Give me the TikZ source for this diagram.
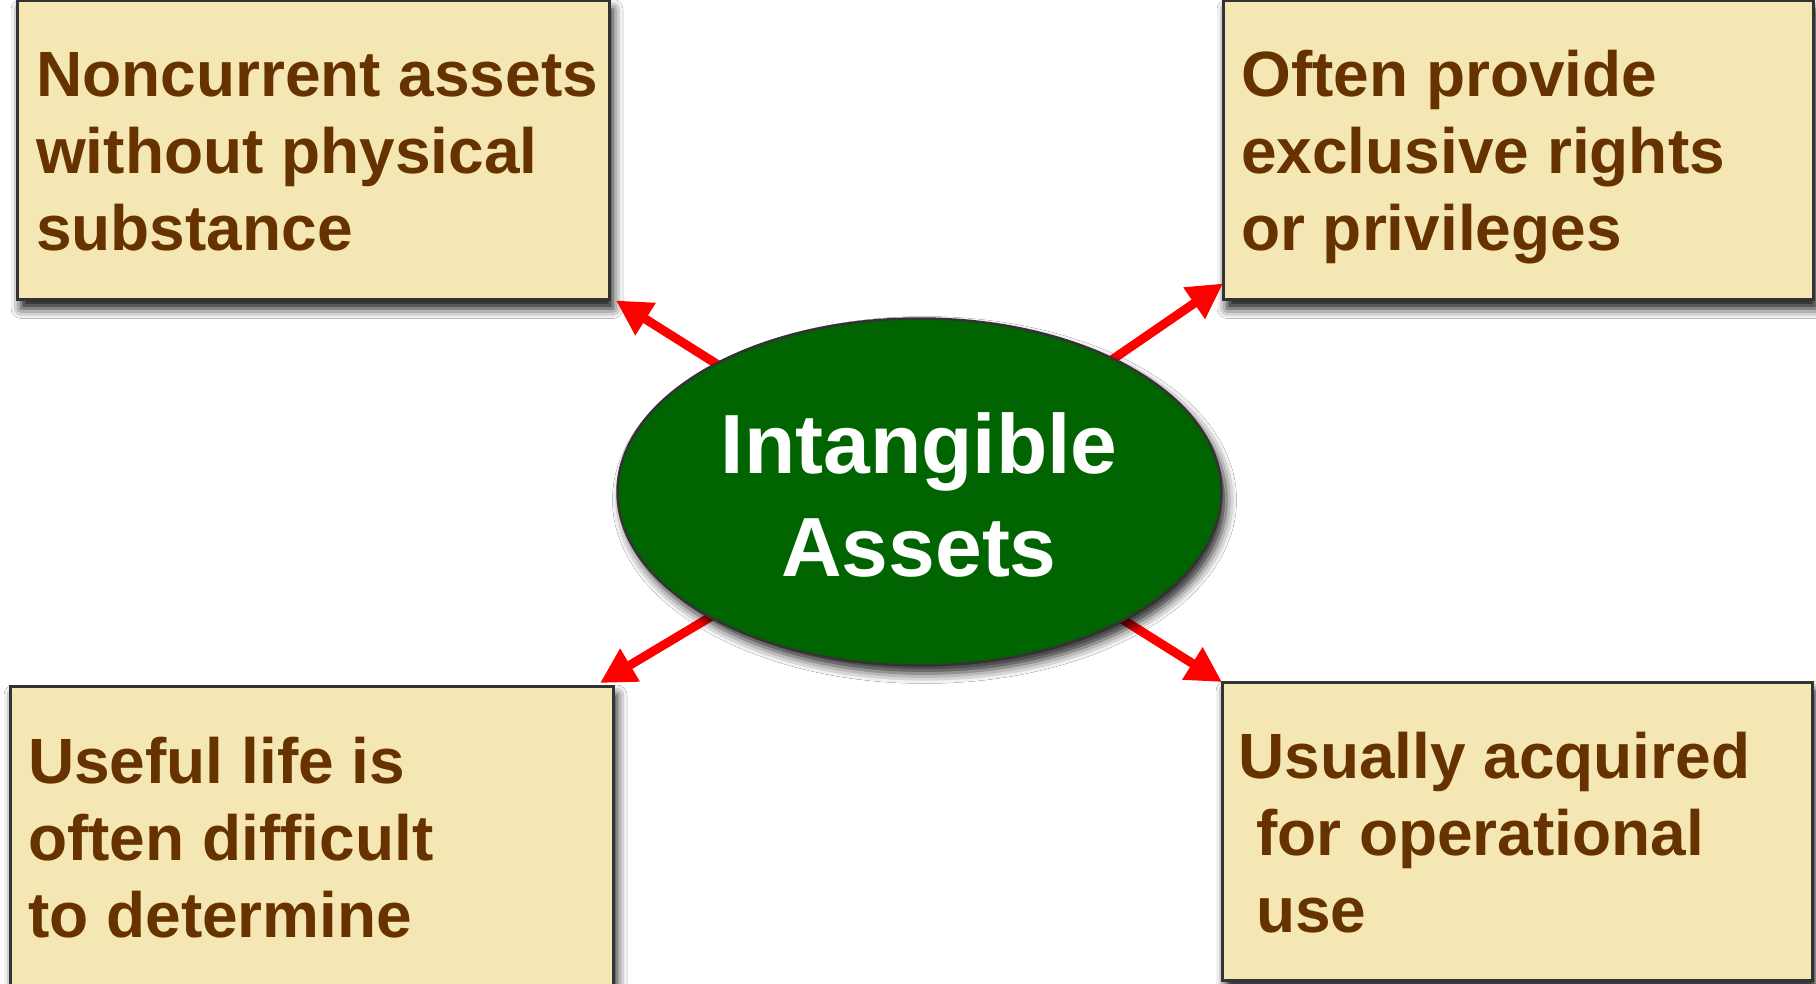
\documentclass[tikz,border=0pt]{standalone}
\usepackage{fontspec}
\setmainfont{Liberation Sans}
\usetikzlibrary{arrows.meta,shapes.geometric,shadows.blur,calc}
\definecolor{boxfill}{RGB}{245,231,179}
\definecolor{boxline}{RGB}{51,51,51}
\definecolor{textbrown}{RGB}{102,51,0}
\definecolor{ovalgreen}{RGB}{0,100,0}
\definecolor{arrowred}{RGB}{255,0,0}
\pgfdeclarelayer{front}
\pgfsetlayers{main,front}
\tikzset{
  infobox/.style={draw=boxline, line width=3pt, fill=boxfill, rectangle,
    inner sep=0pt, outer sep=0pt,
    blur shadow={shadow xshift=4pt, shadow yshift=-9pt,
      shadow blur radius=10pt, shadow opacity=95}},
  % base anchor of a multi-line node sits on its last line
  boxtext/.style={text=textbrown, align=left, inner sep=0pt, anchor=base west,
    font=\fontsize{64}{77}\selectfont\bfseries},
  oval/.style={ellipse, draw=boxline, line width=2.5pt, fill=ovalgreen,
    inner sep=0pt, outer sep=0pt,
    blur shadow={shadow xshift=5pt, shadow yshift=-8pt,
      shadow blur radius=10pt, shadow opacity=85}},
  ovaltext/.style={text=white, align=center, inner sep=0pt, anchor=base,
    font=\fontsize{84}{103}\selectfont\bfseries},
  link/.style={draw=arrowred, line width=9pt, shorten <=-14pt,
    -{Triangle[length=35pt,width=36pt]}}
}
\begin{document}
\begin{tikzpicture}[x=1pt,y=-1pt]
  \useasboundingbox[fill=white] (0,0) rectangle (1816,984);

  % four description boxes
  \node[infobox, minimum width=592pt, minimum height=299pt] (tl) at (313,150) {};
  \node[infobox, minimum width=590pt, minimum height=299pt] (tr) at (1518,150) {};
  \node[infobox, minimum width=603pt, minimum height=330pt] (bl) at (311.5,851) {};
  \node[infobox, minimum width=590pt, minimum height=298pt] (br) at (1517,831) {};

  \node[boxtext] (tltext) at (36,251) {Noncurrent assets\\without physical\\substance};
  \node[boxtext] (trtext) at (1241,251) {Often provide\\exclusive rights\\or privileges};
  \node[boxtext] (bltext) at (28,937) {Useful life is\\often difficult\\to determine};
  \node[boxtext] (brtext) at (1238,932) {Usually acquired\\\hspace*{0.278em}for operational\\\hspace*{0.278em}use};

  % central oval, kept above the connectors
  \begin{pgfonlayer}{front}
    \node[oval, minimum width=604pt, minimum height=347pt] (ell) at (919.5,492) {};
    \node[ovaltext] (elltext) at (919,576) {Intangible\\Assets};
  \end{pgfonlayer}

  % connectors from the oval to each box
  \draw[link] (ell) -- ($(tl.south east)+(7,1)$);
  \draw[link] (ell) -- ($(tr.south west)+(0,-16)$);
  \draw[link] (ell) -- ($(bl.north east)+(-13,-3)$);
  \draw[link] (ell) -- (br.north west);
\end{tikzpicture}
\end{document}
